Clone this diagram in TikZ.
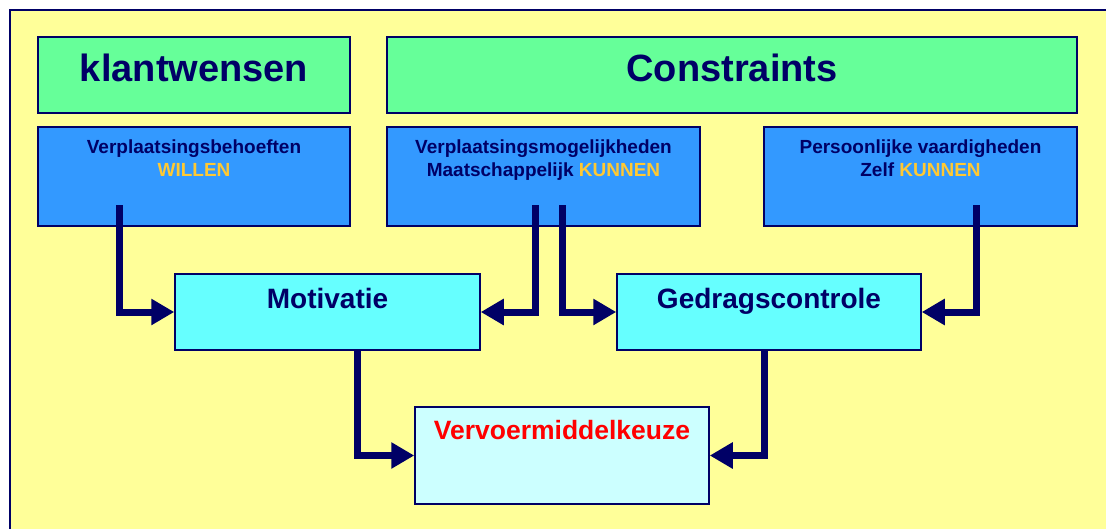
\documentclass[tikz,border=0pt]{standalone}
\usepackage{fontspec}
\setmainfont{Liberation Sans}
\usetikzlibrary{arrows.meta}

\definecolor{bgyellow}{HTML}{FFFF99}
\definecolor{hdgreen}{HTML}{66FF99}
\definecolor{midblue}{HTML}{3399FF}
\definecolor{boxcyan}{HTML}{66FFFF}
\definecolor{palecyan}{HTML}{CCFFFF}
\definecolor{navy}{HTML}{000066}
\definecolor{gold}{HTML}{FFC933}

\tikzset{
  box/.style={draw=navy, line width=1.5pt, inner sep=0pt},
  txt/.style={anchor=north, inner sep=0pt, align=center, text=navy, font=\bfseries},
  flow/.style={draw=navy, line width=7pt, -{Triangle[length=23pt,width=25pt]}}
}

\begin{document}
\begin{tikzpicture}[x=1pt, y=-1pt]
    \useasboundingbox (0,0) rectangle (1106,528);
    \draw[fill=bgyellow, draw=navy, line width=2pt] (10,10) rectangle (1120,540);

    \node[box, fill=hdgreen, minimum width=312pt, minimum height=76pt,
          label={[txt, yshift=-18pt, font=\fontsize{38}{44}\bfseries]north:klantwensen}] (klant) at (194, 75) {};
    \node[box, fill=hdgreen, minimum width=690pt, minimum height=76pt,
          label={[txt, yshift=-18pt, font=\fontsize{38}{44}\bfseries]north:Constraints}] (constr) at (732, 75) {};

    \node[box, fill=midblue, minimum width=312pt, minimum height=99pt,
          label={[txt, yshift=-13pt, font=\fontsize{19}{23}\bfseries]north:Verplaatsingsbehoeften\\\textcolor{gold}{WILLEN}}] (behoeften) at (194, 176.5) {};
    \node[box, fill=midblue, minimum width=313pt, minimum height=99pt,
          label={[txt, yshift=-13pt, font=\fontsize{19}{23}\bfseries]north:Verplaatsingsmogelijkheden\\Maatschappelijk \textcolor{gold}{KUNNEN}}] (mogelijk) at (543.5, 176.5) {};
    \node[box, fill=midblue, minimum width=313pt, minimum height=99pt,
          label={[txt, yshift=-13pt, font=\fontsize{19}{23}\bfseries]north:Persoonlijke vaardigheden\\Zelf \textcolor{gold}{KUNNEN}}] (vaardig) at (920.5, 176.5) {};

    \node[box, fill=boxcyan, minimum width=305pt, minimum height=76pt,
          label={[txt, yshift=-15pt, font=\fontsize{28}{33}\bfseries]north:Motivatie}] (motiv) at (327.5, 312) {};
    \node[box, fill=boxcyan, minimum width=304pt, minimum height=76pt,
          label={[txt, yshift=-15pt, font=\fontsize{28}{33}\bfseries]north:Gedragscontrole}] (gedrag) at (769, 312) {};

    \node[box, fill=palecyan, minimum width=294pt, minimum height=97pt,
          label={[txt, yshift=-14pt, text=red, font=\fontsize{26.5}{31}\bfseries]north:Vervoermiddelkeuze}] (keuze) at (562, 455.5) {};

    % start points of the arrows inside the blue boxes
    \coordinate (behoeften-out) at (119, 205);
    \coordinate (mogelijk-outl) at (535, 205);
    \coordinate (mogelijk-outr) at (562, 205);
    \coordinate (vaardig-out) at (976, 205);

    \draw[flow] (behoeften-out) |- (motiv.west);
    \draw[flow] (mogelijk-outl) |- (motiv.east);
    \draw[flow] (mogelijk-outr) |- (gedrag.west);
    \draw[flow] (vaardig-out) |- (gedrag.east);
    \draw[flow] (motiv.south west) ++(183,0) |- (keuze.west);
    \draw[flow] (gedrag.south west) ++(148,0) |- (keuze.east);
\end{tikzpicture}
\end{document}
